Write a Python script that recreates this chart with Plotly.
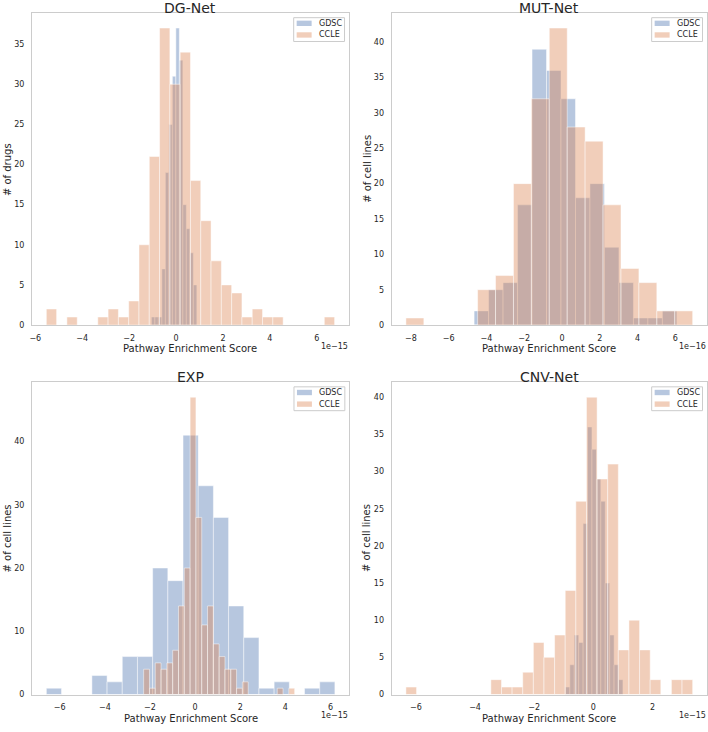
import numpy as np
import plotly.graph_objects as go

# ---------------- data ----------------
titles = ["DG-Net", "MUT-Net", "EXP", "CNV-Net"]
y_titles = ["# of drugs", "# of cell lines", "# of cell lines", "# of cell lines"]
x_title = "Pathway Enrichment Score"
offset_labels = ["1e\u221215", "1e\u221216", "1e\u221215", "1e\u221215"]
series_names = ["GDSC", "CCLE"]

# DG-Net (x in units of 1e-15)
dg_gdsc_bin_start = -1.05
dg_gdsc_bin_width = 0.149
dg_gdsc_counts = [1, 1, 1, 7, 19, 25, 31, 37, 33, 15, 12, 9, 5]
dg_ccle_bin_start = -5.53
dg_ccle_bin_width = 0.439
dg_ccle_counts = [2, 0, 1, 0, 0, 1, 2, 1, 3, 10, 21, 37, 30, 34, 18, 13, 8, 5, 4, 1,
                  2, 1, 1, 0, 0, 0, 0, 1]

# MUT-Net (x in units of 1e-16)
mut_gdsc_bin_start = -4.654
mut_gdsc_bin_width = 0.767
mut_gdsc_counts = [2, 5, 6, 17, 39, 36, 32, 18, 20, 11, 6, 1, 1, 2]
mut_ccle_bin_start = -8.264
mut_ccle_bin_width = 0.949
mut_ccle_counts = [1, 0, 0, 0, 5, 7, 20, 32, 42, 28, 26, 17, 8, 6, 2, 2]

# EXP (x in units of 1e-15)
exp_gdsc_bin_start = -6.592
exp_gdsc_bin_width = 0.673
exp_gdsc_counts = [1, 0, 0, 3, 2, 6, 6, 20, 18, 41, 33, 28, 14, 9, 1, 2, 0, 1, 2]
exp_ccle_bin_start = -2.28
exp_ccle_bin_width = 0.2574
exp_ccle_counts = [4, 1, 5, 4, 5, 7, 14, 20, 47, 28, 11, 14, 8, 6, 4, 4, 1, 2, 0, 0,
                   0, 0, 0, 1, 0, 1]

# CNV-Net (x in units of 1e-15)
cnv_gdsc_bin_start = -0.944
cnv_gdsc_bin_width = 0.1495
cnv_gdsc_counts = [1, 4, 8, 7, 23, 36, 33, 29, 26, 15, 8, 4, 2]
cnv_ccle_bin_start = -6.336
cnv_ccle_bin_width = 0.359
cnv_ccle_counts = [1, 0, 0, 0, 0, 0, 0, 0, 2, 1, 1, 3, 7, 5, 8, 14, 26, 40, 29, 31,
                   6, 10, 6, 2, 0, 2, 2]

# tick values
dg_xticks = [-6, -4, -2, 0, 2, 4, 6]
dg_yticks = [0, 5, 10, 15, 20, 25, 30, 35]
mut_xticks = [-8, -6, -4, -2, 0, 2, 4, 6]
mut_yticks = [0, 5, 10, 15, 20, 25, 30, 35, 40]
exp_xticks = [-6, -4, -2, 0, 2, 4, 6]
exp_yticks = [0, 10, 20, 30, 40]
cnv_xticks = [-6, -4, -2, 0, 2]
cnv_yticks = [0, 5, 10, 15, 20, 25, 30, 35, 40]

# ---------------- styling / layout ----------------
W, H = 708, 732
FONT = "DejaVu Sans"
TXT = "#262626"
SPINE = "#cccccc"
colors = ["rgba(76,114,176,0.4)", "rgba(221,132,82,0.4)"]

# plot-area boxes in pixels: (left, right, top, bottom)
boxes = [(30, 348, 13.3, 327.3), (390.7, 707, 13.3, 327.3),
         (30, 348.3, 385, 699.3), (390.7, 707, 385, 699.3)]

panels = [
    ((dg_gdsc_bin_start, dg_gdsc_bin_width, dg_gdsc_counts),
     (dg_ccle_bin_start, dg_ccle_bin_width, dg_ccle_counts), dg_xticks, dg_yticks),
    ((mut_gdsc_bin_start, mut_gdsc_bin_width, mut_gdsc_counts),
     (mut_ccle_bin_start, mut_ccle_bin_width, mut_ccle_counts), mut_xticks, mut_yticks),
    ((exp_gdsc_bin_start, exp_gdsc_bin_width, exp_gdsc_counts),
     (exp_ccle_bin_start, exp_ccle_bin_width, exp_ccle_counts), exp_xticks, exp_yticks),
    ((cnv_gdsc_bin_start, cnv_gdsc_bin_width, cnv_gdsc_counts),
     (cnv_ccle_bin_start, cnv_ccle_bin_width, cnv_ccle_counts), cnv_xticks, cnv_yticks),
]


def fx(px):
    return px / W


def fy(py):
    return 1 - py / H


def fmt(v):
    return str(v).replace("-", "\u2212")


fig = go.Figure()
layout = dict(
    width=W, height=H, margin=dict(l=0, r=0, t=0, b=0),
    paper_bgcolor="white", plot_bgcolor="white",
    barmode="overlay", font=dict(family=FONT, color=TXT),
    annotations=[], shapes=[], showlegend=False,
)
ann = layout["annotations"]
shp = layout["shapes"]

for i, (g, c, xt, yt) in enumerate(panels):
    n = "" if i == 0 else str(i + 1)
    L, R, T, B = boxes[i]
    lo, hi = 1e9, -1e9
    ymax = 0
    for k, (start, width, counts) in enumerate((g, c)):
        counts = np.asarray(counts)
        edges = start + width * np.arange(len(counts) + 1)
        centers = (edges[:-1] + edges[1:]) / 2
        lo, hi = min(lo, edges[0]), max(hi, edges[-1])
        ymax = max(ymax, counts.max())
        fig.add_trace(go.Bar(
            x=centers, y=counts, width=width, name=series_names[k],
            marker=dict(color=colors[k], line=dict(color="rgba(255,255,255,0.6)", width=0.8)),
            xaxis="x" + n, yaxis="y" + n,
        ))
    pad = 0.05 * (hi - lo)
    layout["xaxis" + n] = dict(
        domain=[fx(L), fx(R)], anchor="y" + n, range=[lo - pad, hi + pad],
        tickvals=xt, ticktext=[fmt(v) for v in xt], ticks="", showgrid=False,
        zeroline=False, showline=True, linecolor=SPINE, linewidth=1, mirror=True,
        tickfont=dict(size=8, color=TXT, family=FONT), ticklabelstandoff=5,
    )
    layout["yaxis" + n] = dict(
        domain=[fy(B), fy(T)], anchor="x" + n, range=[0, ymax * 1.05],
        tickvals=yt, ticktext=[fmt(v) for v in yt], ticks="", showgrid=False,
        zeroline=False, showline=True, linecolor=SPINE, linewidth=1, mirror=True,
        tickfont=dict(size=8, color=TXT, family=FONT), ticklabelstandoff=5,
    )

    # legend box (drawn like matplotlib's compact legend)
    bR, bT = R - 4.5, T + 4.5
    bL, bB = bR - 51, bT + 24
    shp.append(dict(type="rect", xref="paper", yref="paper",
                    x0=fx(bL), x1=fx(bR), y0=fy(bB), y1=fy(bT),
                    line=dict(color=SPINE, width=1), fillcolor="rgba(255,255,255,0.85)",
                    layer="above"))
    for k in range(2):
        yc = bT + 5.7 + 11.7 * k
        shp.append(dict(type="rect", xref="paper", yref="paper",
                        x0=fx(bL + 3), x1=fx(bL + 18), y0=fy(yc + 2.7), y1=fy(yc - 2.7),
                        line=dict(width=0), fillcolor=colors[k], layer="above"))
        ann.append(dict(text=series_names[k], x=fx(bL + 24), y=fy(yc), xref="paper",
                        yref="paper", xanchor="left", yanchor="middle", showarrow=False,
                        borderpad=0, font=dict(size=8, color=TXT, family=FONT)))

    cx = (L + R) / 2
    ann.append(dict(text=titles[i], x=fx(cx), y=fy(T - 5), xref="paper", yref="paper",
                    xanchor="center", yanchor="middle", showarrow=False, borderpad=0,
                    font=dict(size=14, color=TXT, family=FONT)))
    ann.append(dict(text=x_title, x=fx(cx), y=fy(B + 24), xref="paper", yref="paper",
                    xanchor="center", yanchor="middle", showarrow=False, borderpad=0,
                    font=dict(size=10, color=TXT, family=FONT)))
    ann.append(dict(text=y_titles[i], x=fx(L - 25), y=fy((T + B) / 2), xref="paper",
                    yref="paper", xanchor="center", yanchor="middle", textangle=-90,
                    showarrow=False, borderpad=0,
                    font=dict(size=10, color=TXT, family=FONT)))
    ann.append(dict(text=offset_labels[i], x=fx(R), y=fy(B + 21.5), xref="paper",
                    yref="paper", xanchor="right", yanchor="middle", showarrow=False,
                    borderpad=0, font=dict(size=8, color=TXT, family=FONT)))

fig.update_layout(**layout)
fig.write_html("out.html", config={"displayModeBar": False},
               post_script="document.body.style.margin='0';")
